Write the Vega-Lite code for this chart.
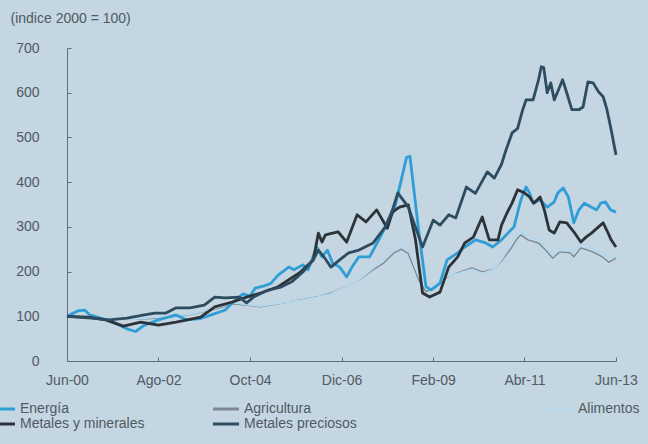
{
  "$schema": "https://vega.github.io/schema/vega-lite/v6.json",
  "width": 549,
  "height": 313,
  "autosize": {"type": "none"},
  "padding": {"left": 67, "top": 48, "right": 32, "bottom": 83},
  "background": "#c4d6e1",
  "config": {
    "view": {"stroke": null},
    "font": "Liberation Sans",
    "axis": {
      "domainColor": "#5f6f7a",
      "tickColor": "#5f6f7a",
      "labelColor": "#4f5a63",
      "labelFont": "Liberation Sans",
      "labelFontSize": 14,
      "grid": false,
      "tickSize": -4,
      "domainWidth": 1
    },
    "legend": {
      "labelFont": "Liberation Sans",
      "labelFontSize": 14,
      "labelColor": "#4f5a63",
      "symbolType": "M-2,0H2",
      "symbolStrokeWidth": 3,
      "symbolSize": 169,
      "labelOffset": 10,
      "rowPadding": 0,
      "padding": 0,
      "titlePadding": 0
    }
  },
  "datasets": {
    "indices": [
      {"fecha": "2000-06-01", "serie": "Energía", "valor": 100},
      {"fecha": "2000-09-01", "serie": "Energía", "valor": 112},
      {"fecha": "2000-11-01", "serie": "Energía", "valor": 114},
      {"fecha": "2000-12-15", "serie": "Energía", "valor": 103},
      {"fecha": "2001-04-01", "serie": "Energía", "valor": 95},
      {"fecha": "2001-08-01", "serie": "Energía", "valor": 84},
      {"fecha": "2001-11-01", "serie": "Energía", "valor": 72},
      {"fecha": "2002-01-15", "serie": "Energía", "valor": 66},
      {"fecha": "2002-04-01", "serie": "Energía", "valor": 80},
      {"fecha": "2002-08-01", "serie": "Energía", "valor": 92},
      {"fecha": "2003-01-01", "serie": "Energía", "valor": 103},
      {"fecha": "2003-04-01", "serie": "Energía", "valor": 92},
      {"fecha": "2003-08-01", "serie": "Energía", "valor": 95},
      {"fecha": "2003-11-01", "serie": "Energía", "valor": 103},
      {"fecha": "2004-03-01", "serie": "Energía", "valor": 114},
      {"fecha": "2004-05-01", "serie": "Energía", "valor": 130},
      {"fecha": "2004-08-01", "serie": "Energía", "valor": 150},
      {"fecha": "2004-10-01", "serie": "Energía", "valor": 145},
      {"fecha": "2004-11-15", "serie": "Energía", "valor": 163},
      {"fecha": "2005-02-01", "serie": "Energía", "valor": 168},
      {"fecha": "2005-04-01", "serie": "Energía", "valor": 174},
      {"fecha": "2005-06-01", "serie": "Energía", "valor": 192},
      {"fecha": "2005-09-01", "serie": "Energía", "valor": 210},
      {"fecha": "2005-10-15", "serie": "Energía", "valor": 204},
      {"fecha": "2006-01-01", "serie": "Energía", "valor": 215},
      {"fecha": "2006-02-15", "serie": "Energía", "valor": 204},
      {"fecha": "2006-05-01", "serie": "Energía", "valor": 255},
      {"fecha": "2006-06-15", "serie": "Energía", "valor": 233},
      {"fecha": "2006-08-01", "serie": "Energía", "valor": 248},
      {"fecha": "2006-09-15", "serie": "Energía", "valor": 219},
      {"fecha": "2006-11-15", "serie": "Energía", "valor": 210},
      {"fecha": "2007-01-15", "serie": "Energía", "valor": 188},
      {"fecha": "2007-03-01", "serie": "Energía", "valor": 210},
      {"fecha": "2007-05-01", "serie": "Energía", "valor": 233},
      {"fecha": "2007-08-01", "serie": "Energía", "valor": 233},
      {"fecha": "2007-11-01", "serie": "Energía", "valor": 277},
      {"fecha": "2008-01-01", "serie": "Energía", "valor": 309},
      {"fecha": "2008-03-01", "serie": "Energía", "valor": 338},
      {"fecha": "2008-05-01", "serie": "Energía", "valor": 405},
      {"fecha": "2008-06-15", "serie": "Energía", "valor": 455},
      {"fecha": "2008-07-15", "serie": "Energía", "valor": 458},
      {"fecha": "2008-10-01", "serie": "Energía", "valor": 286},
      {"fecha": "2008-12-01", "serie": "Energía", "valor": 166},
      {"fecha": "2009-01-15", "serie": "Energía", "valor": 159},
      {"fecha": "2009-04-01", "serie": "Energía", "valor": 174},
      {"fecha": "2009-06-01", "serie": "Energía", "valor": 226},
      {"fecha": "2009-09-01", "serie": "Energía", "valor": 242},
      {"fecha": "2009-11-01", "serie": "Energía", "valor": 255},
      {"fecha": "2010-02-01", "serie": "Energía", "valor": 271},
      {"fecha": "2010-05-01", "serie": "Energía", "valor": 264},
      {"fecha": "2010-07-01", "serie": "Energía", "valor": 255},
      {"fecha": "2010-09-15", "serie": "Energía", "valor": 271},
      {"fecha": "2011-01-01", "serie": "Energía", "valor": 300},
      {"fecha": "2011-03-01", "serie": "Energía", "valor": 360},
      {"fecha": "2011-04-15", "serie": "Energía", "valor": 389},
      {"fecha": "2011-05-15", "serie": "Energía", "valor": 376},
      {"fecha": "2011-06-15", "serie": "Energía", "valor": 353},
      {"fecha": "2011-08-15", "serie": "Energía", "valor": 360},
      {"fecha": "2011-10-15", "serie": "Energía", "valor": 344},
      {"fecha": "2011-12-15", "serie": "Energía", "valor": 356},
      {"fecha": "2012-01-15", "serie": "Energía", "valor": 376},
      {"fecha": "2012-03-01", "serie": "Energía", "valor": 387},
      {"fecha": "2012-04-15", "serie": "Energía", "valor": 367},
      {"fecha": "2012-06-01", "serie": "Energía", "valor": 309},
      {"fecha": "2012-07-15", "serie": "Energía", "valor": 338},
      {"fecha": "2012-09-01", "serie": "Energía", "valor": 353},
      {"fecha": "2012-11-01", "serie": "Energía", "valor": 344},
      {"fecha": "2012-12-15", "serie": "Energía", "valor": 338},
      {"fecha": "2013-01-20", "serie": "Energía", "valor": 353},
      {"fecha": "2013-03-01", "serie": "Energía", "valor": 356},
      {"fecha": "2013-04-15", "serie": "Energía", "valor": 338},
      {"fecha": "2013-06-01", "serie": "Energía", "valor": 333},

      {"fecha": "2000-06-01", "serie": "Metales y minerales", "valor": 100},
      {"fecha": "2000-12-01", "serie": "Metales y minerales", "valor": 98},
      {"fecha": "2001-05-01", "serie": "Metales y minerales", "valor": 92},
      {"fecha": "2001-10-01", "serie": "Metales y minerales", "valor": 78},
      {"fecha": "2002-03-01", "serie": "Metales y minerales", "valor": 87},
      {"fecha": "2002-08-01", "serie": "Metales y minerales", "valor": 80},
      {"fecha": "2003-01-01", "serie": "Metales y minerales", "valor": 87},
      {"fecha": "2003-08-01", "serie": "Metales y minerales", "valor": 98},
      {"fecha": "2003-12-01", "serie": "Metales y minerales", "valor": 121},
      {"fecha": "2004-05-01", "serie": "Metales y minerales", "valor": 132},
      {"fecha": "2004-09-01", "serie": "Metales y minerales", "valor": 143},
      {"fecha": "2005-01-01", "serie": "Metales y minerales", "valor": 152},
      {"fecha": "2005-06-01", "serie": "Metales y minerales", "valor": 166},
      {"fecha": "2005-12-01", "serie": "Metales y minerales", "valor": 197},
      {"fecha": "2006-04-01", "serie": "Metales y minerales", "valor": 226},
      {"fecha": "2006-05-15", "serie": "Metales y minerales", "valor": 286},
      {"fecha": "2006-06-15", "serie": "Metales y minerales", "valor": 266},
      {"fecha": "2006-07-15", "serie": "Metales y minerales", "valor": 282},
      {"fecha": "2006-11-01", "serie": "Metales y minerales", "valor": 289},
      {"fecha": "2007-01-15", "serie": "Metales y minerales", "valor": 266},
      {"fecha": "2007-04-15", "serie": "Metales y minerales", "valor": 327},
      {"fecha": "2007-07-01", "serie": "Metales y minerales", "valor": 311},
      {"fecha": "2007-10-01", "serie": "Metales y minerales", "valor": 338},
      {"fecha": "2008-01-01", "serie": "Metales y minerales", "valor": 297},
      {"fecha": "2008-02-15", "serie": "Metales y minerales", "valor": 333},
      {"fecha": "2008-04-15", "serie": "Metales y minerales", "valor": 344},
      {"fecha": "2008-07-01", "serie": "Metales y minerales", "valor": 349},
      {"fecha": "2008-09-01", "serie": "Metales y minerales", "valor": 271},
      {"fecha": "2008-11-01", "serie": "Metales y minerales", "valor": 152},
      {"fecha": "2009-01-01", "serie": "Metales y minerales", "valor": 143},
      {"fecha": "2009-04-01", "serie": "Metales y minerales", "valor": 154},
      {"fecha": "2009-06-15", "serie": "Metales y minerales", "valor": 210},
      {"fecha": "2009-09-01", "serie": "Metales y minerales", "valor": 233},
      {"fecha": "2009-11-01", "serie": "Metales y minerales", "valor": 264},
      {"fecha": "2010-01-15", "serie": "Metales y minerales", "valor": 277},
      {"fecha": "2010-04-01", "serie": "Metales y minerales", "valor": 322},
      {"fecha": "2010-06-01", "serie": "Metales y minerales", "valor": 271},
      {"fecha": "2010-08-15", "serie": "Metales y minerales", "valor": 271},
      {"fecha": "2010-09-15", "serie": "Metales y minerales", "valor": 304},
      {"fecha": "2010-11-01", "serie": "Metales y minerales", "valor": 331},
      {"fecha": "2010-12-15", "serie": "Metales y minerales", "valor": 353},
      {"fecha": "2011-02-01", "serie": "Metales y minerales", "valor": 383},
      {"fecha": "2011-04-01", "serie": "Metales y minerales", "valor": 376},
      {"fecha": "2011-05-15", "serie": "Metales y minerales", "valor": 367},
      {"fecha": "2011-06-20", "serie": "Metales y minerales", "valor": 353},
      {"fecha": "2011-08-15", "serie": "Metales y minerales", "valor": 367},
      {"fecha": "2011-09-20", "serie": "Metales y minerales", "valor": 338},
      {"fecha": "2011-11-01", "serie": "Metales y minerales", "valor": 293},
      {"fecha": "2011-12-15", "serie": "Metales y minerales", "valor": 286},
      {"fecha": "2012-02-01", "serie": "Metales y minerales", "valor": 311},
      {"fecha": "2012-04-01", "serie": "Metales y minerales", "valor": 309},
      {"fecha": "2012-06-01", "serie": "Metales y minerales", "valor": 289},
      {"fecha": "2012-08-01", "serie": "Metales y minerales", "valor": 266},
      {"fecha": "2012-09-15", "serie": "Metales y minerales", "valor": 277},
      {"fecha": "2012-11-01", "serie": "Metales y minerales", "valor": 286},
      {"fecha": "2013-01-01", "serie": "Metales y minerales", "valor": 300},
      {"fecha": "2013-02-10", "serie": "Metales y minerales", "valor": 309},
      {"fecha": "2013-03-20", "serie": "Metales y minerales", "valor": 289},
      {"fecha": "2013-04-20", "serie": "Metales y minerales", "valor": 271},
      {"fecha": "2013-06-01", "serie": "Metales y minerales", "valor": 255},

      {"fecha": "2000-06-01", "serie": "Metales preciosos", "valor": 100},
      {"fecha": "2001-01-01", "serie": "Metales preciosos", "valor": 96},
      {"fecha": "2001-06-01", "serie": "Metales preciosos", "valor": 92},
      {"fecha": "2001-11-01", "serie": "Metales preciosos", "valor": 96},
      {"fecha": "2002-04-01", "serie": "Metales preciosos", "valor": 103},
      {"fecha": "2002-07-01", "serie": "Metales preciosos", "valor": 107},
      {"fecha": "2002-10-01", "serie": "Metales preciosos", "valor": 107},
      {"fecha": "2003-01-01", "serie": "Metales preciosos", "valor": 119},
      {"fecha": "2003-05-01", "serie": "Metales preciosos", "valor": 119},
      {"fecha": "2003-09-01", "serie": "Metales preciosos", "valor": 125},
      {"fecha": "2003-12-01", "serie": "Metales preciosos", "valor": 143},
      {"fecha": "2004-03-01", "serie": "Metales preciosos", "valor": 141},
      {"fecha": "2004-07-01", "serie": "Metales preciosos", "valor": 143},
      {"fecha": "2004-09-01", "serie": "Metales preciosos", "valor": 130},
      {"fecha": "2004-11-01", "serie": "Metales preciosos", "valor": 143},
      {"fecha": "2005-03-01", "serie": "Metales preciosos", "valor": 158},
      {"fecha": "2005-07-01", "serie": "Metales preciosos", "valor": 166},
      {"fecha": "2005-10-01", "serie": "Metales preciosos", "valor": 178},
      {"fecha": "2006-01-01", "serie": "Metales preciosos", "valor": 199},
      {"fecha": "2006-04-01", "serie": "Metales preciosos", "valor": 226},
      {"fecha": "2006-05-15", "serie": "Metales preciosos", "valor": 248},
      {"fecha": "2006-07-01", "serie": "Metales preciosos", "valor": 233},
      {"fecha": "2006-09-01", "serie": "Metales preciosos", "valor": 210},
      {"fecha": "2006-11-15", "serie": "Metales preciosos", "valor": 226},
      {"fecha": "2007-02-01", "serie": "Metales preciosos", "valor": 242},
      {"fecha": "2007-05-01", "serie": "Metales preciosos", "valor": 248},
      {"fecha": "2007-09-01", "serie": "Metales preciosos", "valor": 264},
      {"fecha": "2007-12-15", "serie": "Metales preciosos", "valor": 300},
      {"fecha": "2008-02-15", "serie": "Metales preciosos", "valor": 338},
      {"fecha": "2008-04-01", "serie": "Metales preciosos", "valor": 376},
      {"fecha": "2008-07-01", "serie": "Metales preciosos", "valor": 344},
      {"fecha": "2008-11-01", "serie": "Metales preciosos", "valor": 255},
      {"fecha": "2009-02-01", "serie": "Metales preciosos", "valor": 315},
      {"fecha": "2009-04-01", "serie": "Metales preciosos", "valor": 304},
      {"fecha": "2009-06-15", "serie": "Metales preciosos", "valor": 327},
      {"fecha": "2009-08-15", "serie": "Metales preciosos", "valor": 320},
      {"fecha": "2009-11-15", "serie": "Metales preciosos", "valor": 389},
      {"fecha": "2010-02-01", "serie": "Metales preciosos", "valor": 375},
      {"fecha": "2010-05-15", "serie": "Metales preciosos", "valor": 423},
      {"fecha": "2010-07-15", "serie": "Metales preciosos", "valor": 409},
      {"fecha": "2010-09-15", "serie": "Metales preciosos", "valor": 440},
      {"fecha": "2010-10-15", "serie": "Metales preciosos", "valor": 465},
      {"fecha": "2010-12-15", "serie": "Metales preciosos", "valor": 510},
      {"fecha": "2011-02-01", "serie": "Metales preciosos", "valor": 520},
      {"fecha": "2011-03-15", "serie": "Metales preciosos", "valor": 560},
      {"fecha": "2011-04-15", "serie": "Metales preciosos", "valor": 584},
      {"fecha": "2011-06-15", "serie": "Metales preciosos", "valor": 584},
      {"fecha": "2011-08-01", "serie": "Metales preciosos", "valor": 629},
      {"fecha": "2011-08-25", "serie": "Metales preciosos", "valor": 658},
      {"fecha": "2011-09-15", "serie": "Metales preciosos", "valor": 656},
      {"fecha": "2011-10-15", "serie": "Metales preciosos", "valor": 600},
      {"fecha": "2011-11-15", "serie": "Metales preciosos", "valor": 622},
      {"fecha": "2011-12-15", "serie": "Metales preciosos", "valor": 584},
      {"fecha": "2012-01-20", "serie": "Metales preciosos", "valor": 606},
      {"fecha": "2012-02-25", "serie": "Metales preciosos", "valor": 629},
      {"fecha": "2012-04-01", "serie": "Metales preciosos", "valor": 600},
      {"fecha": "2012-05-15", "serie": "Metales preciosos", "valor": 562},
      {"fecha": "2012-07-15", "serie": "Metales preciosos", "valor": 562},
      {"fecha": "2012-08-20", "serie": "Metales preciosos", "valor": 568},
      {"fecha": "2012-10-01", "serie": "Metales preciosos", "valor": 624},
      {"fecha": "2012-11-15", "serie": "Metales preciosos", "valor": 622},
      {"fecha": "2013-01-01", "serie": "Metales preciosos", "valor": 602},
      {"fecha": "2013-02-10", "serie": "Metales preciosos", "valor": 591},
      {"fecha": "2013-03-15", "serie": "Metales preciosos", "valor": 562},
      {"fecha": "2013-04-20", "serie": "Metales preciosos", "valor": 517},
      {"fecha": "2013-06-01", "serie": "Metales preciosos", "valor": 461},

      {"fecha": "2000-06-01", "serie": "Agricultura", "valor": 100},
      {"fecha": "2001-01-01", "serie": "Agricultura", "valor": 97},
      {"fecha": "2001-06-01", "serie": "Agricultura", "valor": 95},
      {"fecha": "2002-01-01", "serie": "Agricultura", "valor": 93},
      {"fecha": "2002-06-01", "serie": "Agricultura", "valor": 95},
      {"fecha": "2003-01-01", "serie": "Agricultura", "valor": 100},
      {"fecha": "2003-06-01", "serie": "Agricultura", "valor": 105},
      {"fecha": "2004-01-01", "serie": "Agricultura", "valor": 118},
      {"fecha": "2004-05-01", "serie": "Agricultura", "valor": 128},
      {"fecha": "2004-10-01", "serie": "Agricultura", "valor": 124},
      {"fecha": "2005-01-01", "serie": "Agricultura", "valor": 121},
      {"fecha": "2005-06-01", "serie": "Agricultura", "valor": 128},
      {"fecha": "2005-12-01", "serie": "Agricultura", "valor": 136},
      {"fecha": "2006-05-01", "serie": "Agricultura", "valor": 143},
      {"fecha": "2006-09-01", "serie": "Agricultura", "valor": 152},
      {"fecha": "2007-01-01", "serie": "Agricultura", "valor": 166},
      {"fecha": "2007-05-01", "serie": "Agricultura", "valor": 181},
      {"fecha": "2007-09-01", "serie": "Agricultura", "valor": 204},
      {"fecha": "2007-12-01", "serie": "Agricultura", "valor": 219},
      {"fecha": "2008-03-01", "serie": "Agricultura", "valor": 242},
      {"fecha": "2008-05-01", "serie": "Agricultura", "valor": 250},
      {"fecha": "2008-07-01", "serie": "Agricultura", "valor": 240},
      {"fecha": "2008-10-01", "serie": "Agricultura", "valor": 180},
      {"fecha": "2008-12-01", "serie": "Agricultura", "valor": 155},
      {"fecha": "2009-03-01", "serie": "Agricultura", "valor": 166},
      {"fecha": "2009-06-01", "serie": "Agricultura", "valor": 188},
      {"fecha": "2009-09-01", "serie": "Agricultura", "valor": 197},
      {"fecha": "2010-01-01", "serie": "Agricultura", "valor": 208},
      {"fecha": "2010-04-01", "serie": "Agricultura", "valor": 199},
      {"fecha": "2010-07-01", "serie": "Agricultura", "valor": 204},
      {"fecha": "2010-09-01", "serie": "Agricultura", "valor": 219},
      {"fecha": "2010-12-01", "serie": "Agricultura", "valor": 250},
      {"fecha": "2011-02-01", "serie": "Agricultura", "valor": 275},
      {"fecha": "2011-03-01", "serie": "Agricultura", "valor": 282},
      {"fecha": "2011-05-01", "serie": "Agricultura", "valor": 271},
      {"fecha": "2011-08-01", "serie": "Agricultura", "valor": 264},
      {"fecha": "2011-10-01", "serie": "Agricultura", "valor": 248},
      {"fecha": "2011-12-01", "serie": "Agricultura", "valor": 230},
      {"fecha": "2012-02-01", "serie": "Agricultura", "valor": 244},
      {"fecha": "2012-05-01", "serie": "Agricultura", "valor": 242},
      {"fecha": "2012-06-01", "serie": "Agricultura", "valor": 233},
      {"fecha": "2012-08-01", "serie": "Agricultura", "valor": 253},
      {"fecha": "2012-10-01", "serie": "Agricultura", "valor": 248},
      {"fecha": "2012-12-01", "serie": "Agricultura", "valor": 242},
      {"fecha": "2013-02-01", "serie": "Agricultura", "valor": 233},
      {"fecha": "2013-04-01", "serie": "Agricultura", "valor": 221},
      {"fecha": "2013-06-01", "serie": "Agricultura", "valor": 230},

      {"fecha": "2000-06-01", "serie": "Alimentos", "valor": 100},
      {"fecha": "2001-01-01", "serie": "Alimentos", "valor": 98},
      {"fecha": "2001-06-01", "serie": "Alimentos", "valor": 96},
      {"fecha": "2002-01-01", "serie": "Alimentos", "valor": 94},
      {"fecha": "2002-06-01", "serie": "Alimentos", "valor": 97},
      {"fecha": "2003-01-01", "serie": "Alimentos", "valor": 102},
      {"fecha": "2003-06-01", "serie": "Alimentos", "valor": 106},
      {"fecha": "2004-01-01", "serie": "Alimentos", "valor": 120},
      {"fecha": "2004-05-01", "serie": "Alimentos", "valor": 131},
      {"fecha": "2004-10-01", "serie": "Alimentos", "valor": 126},
      {"fecha": "2005-01-01", "serie": "Alimentos", "valor": 123},
      {"fecha": "2005-06-01", "serie": "Alimentos", "valor": 129},
      {"fecha": "2005-12-01", "serie": "Alimentos", "valor": 135},
      {"fecha": "2006-05-01", "serie": "Alimentos", "valor": 142},
      {"fecha": "2006-09-01", "serie": "Alimentos", "valor": 150},
      {"fecha": "2007-01-01", "serie": "Alimentos", "valor": 165},
      {"fecha": "2007-05-01", "serie": "Alimentos", "valor": 182},
      {"fecha": "2007-09-01", "serie": "Alimentos", "valor": 208},
      {"fecha": "2007-12-01", "serie": "Alimentos", "valor": 226},
      {"fecha": "2008-03-01", "serie": "Alimentos", "valor": 252},
      {"fecha": "2008-05-01", "serie": "Alimentos", "valor": 262},
      {"fecha": "2008-07-01", "serie": "Alimentos", "valor": 250},
      {"fecha": "2008-10-01", "serie": "Alimentos", "valor": 190},
      {"fecha": "2008-12-01", "serie": "Alimentos", "valor": 162},
      {"fecha": "2009-03-01", "serie": "Alimentos", "valor": 170},
      {"fecha": "2009-06-01", "serie": "Alimentos", "valor": 190},
      {"fecha": "2009-09-01", "serie": "Alimentos", "valor": 195},
      {"fecha": "2010-01-01", "serie": "Alimentos", "valor": 205},
      {"fecha": "2010-04-01", "serie": "Alimentos", "valor": 196},
      {"fecha": "2010-07-01", "serie": "Alimentos", "valor": 203},
      {"fecha": "2010-09-01", "serie": "Alimentos", "valor": 222},
      {"fecha": "2010-12-01", "serie": "Alimentos", "valor": 258},
      {"fecha": "2011-02-01", "serie": "Alimentos", "valor": 284},
      {"fecha": "2011-03-01", "serie": "Alimentos", "valor": 290},
      {"fecha": "2011-05-01", "serie": "Alimentos", "valor": 279},
      {"fecha": "2011-08-01", "serie": "Alimentos", "valor": 272},
      {"fecha": "2011-10-01", "serie": "Alimentos", "valor": 255},
      {"fecha": "2011-12-01", "serie": "Alimentos", "valor": 238},
      {"fecha": "2012-02-01", "serie": "Alimentos", "valor": 248},
      {"fecha": "2012-05-01", "serie": "Alimentos", "valor": 246},
      {"fecha": "2012-06-01", "serie": "Alimentos", "valor": 240},
      {"fecha": "2012-08-01", "serie": "Alimentos", "valor": 266},
      {"fecha": "2012-10-01", "serie": "Alimentos", "valor": 258},
      {"fecha": "2012-12-01", "serie": "Alimentos", "valor": 248},
      {"fecha": "2013-02-01", "serie": "Alimentos", "valor": 240},
      {"fecha": "2013-04-01", "serie": "Alimentos", "valor": 232},
      {"fecha": "2013-06-01", "serie": "Alimentos", "valor": 236}
    ]
  },
  "data": {"name": "indices"},
  "encoding": {
    "x": {
      "field": "fecha",
      "type": "temporal",
      "scale": {
        "type": "utc",
        "domain": [
          {"year": 2000, "month": 6, "date": 1, "utc": true},
          {"year": 2013, "month": 6, "date": 1, "utc": true}
        ]
      },
      "axis": {
        "title": null,
        "values": [
          {"year": 2000, "month": 6, "date": 1, "utc": true},
          {"year": 2002, "month": 8, "date": 1, "utc": true},
          {"year": 2004, "month": 10, "date": 1, "utc": true},
          {"year": 2006, "month": 12, "date": 1, "utc": true},
          {"year": 2009, "month": 2, "date": 1, "utc": true},
          {"year": 2011, "month": 4, "date": 1, "utc": true},
          {"year": 2013, "month": 6, "date": 1, "utc": true}
        ],
        "labelExpr": "['Ene','Feb','Mar','Abr','May','Jun','Jul','Ago','Sep','Oct','Nov','Dic'][utcmonth(datum.value)] + '-' + utcFormat(datum.value, '%y')",
        "labelPadding": 16,
        "labelFlush": false
      }
    },
    "y": {
      "field": "valor",
      "type": "quantitative",
      "scale": {"domain": [0, 700], "nice": false},
      "axis": {
        "values": [0, 100, 200, 300, 400, 500, 600, 700],
        "title": "(indice 2000 = 100)",
        "titleAngle": 0,
        "titleAlign": "left",
        "titleBaseline": "middle",
        "titleX": -57,
        "titleY": -30,
        "titleFont": "Liberation Sans",
        "titleFontSize": 14,
        "titleFontWeight": "normal",
        "titleColor": "#4f5a63",
        "labelPadding": 32
      }
    }
  },
  "layer": [
    {
      "transform": [{"filter": "datum.serie === 'Agricultura'"}],
      "mark": {"type": "line", "strokeWidth": 1.4, "strokeJoin": "round"},
      "encoding": {
        "color": {
          "field": "serie",
          "type": "nominal",
          "scale": {
            "domain": ["Energía", "Agricultura", "Metales y minerales", "Metales preciosos"],
            "range": ["#2f9dd6", "#7d8890", "#2b3339", "#2d4c60"]
          },
          "legend": {
            "title": null,
            "orient": "none",
            "direction": "horizontal",
            "legendX": -73,
            "legendY": 353,
            "columns": 2,
            "columnPadding": 62
          }
        }
      }
    },
    {
      "transform": [{"filter": "datum.serie === 'Alimentos'"}],
      "mark": {"type": "line", "strokeWidth": 2, "strokeJoin": "round"},
      "encoding": {
        "stroke": {
          "field": "serie",
          "type": "nominal",
          "scale": {"domain": ["Alimentos"], "range": ["#b5d8ee"]},
          "legend": {
            "title": null,
            "orient": "none",
            "legendX": 485,
            "legendY": 353
          }
        }
      }
    },
    {
      "transform": [{"filter": "datum.serie !== 'Agricultura' && datum.serie !== 'Alimentos'"}],
      "mark": {"type": "line", "strokeWidth": 2.8, "strokeJoin": "round"},
      "encoding": {
        "color": {
          "field": "serie",
          "type": "nominal",
          "scale": {
            "domain": ["Energía", "Agricultura", "Metales y minerales", "Metales preciosos"],
            "range": ["#2f9dd6", "#7d8890", "#2b3339", "#2d4c60"]
          }
        }
      }
    }
  ]
}
